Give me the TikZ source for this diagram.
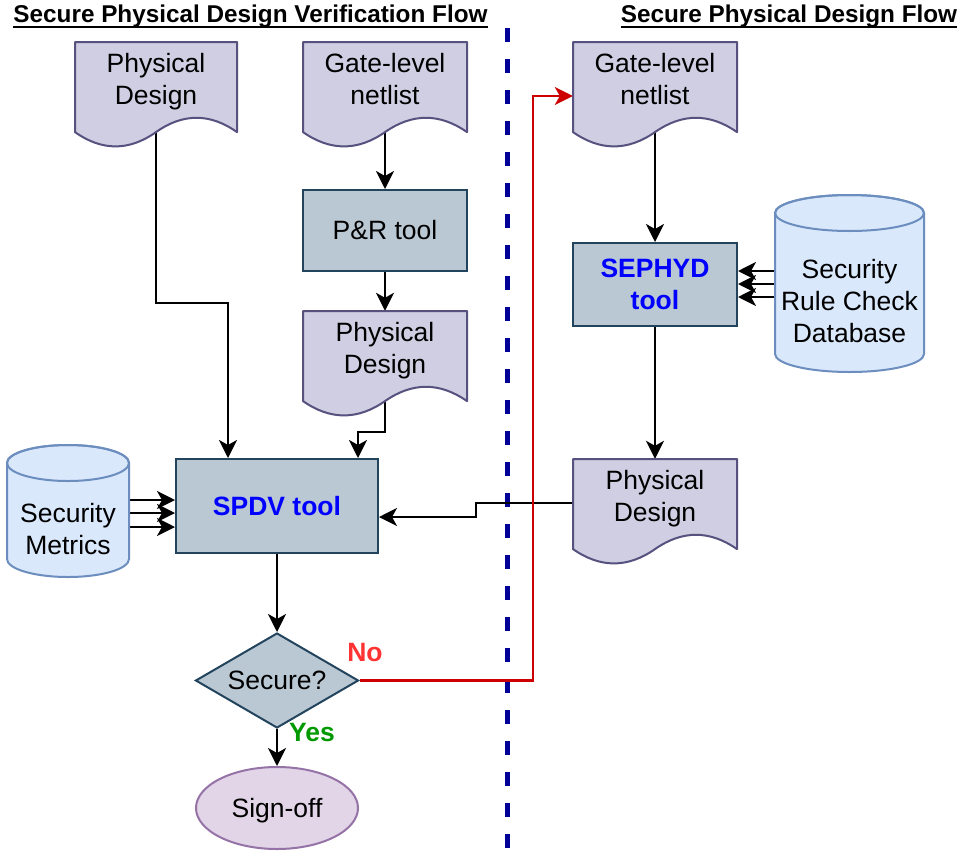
\documentclass[tikz,border=0pt]{standalone}
\usepackage{fontspec}
\setmainfont{Liberation Sans}
\usetikzlibrary{arrows.meta,shapes.geometric,backgrounds,calc}

\definecolor{docfill}{HTML}{D0CEE2}
\definecolor{docline}{HTML}{56517E}
\definecolor{toolfill}{HTML}{BAC8D3}
\definecolor{toolline}{HTML}{23445D}
\definecolor{dbfill}{HTML}{DAE8FC}
\definecolor{dbline}{HTML}{6C8EBF}
\definecolor{endfill}{HTML}{E1D5E7}
\definecolor{endline}{HTML}{9673A6}
\definecolor{loopred}{HTML}{CC0000}
\definecolor{nored}{HTML}{FF3333}
\definecolor{yesgreen}{HTML}{009900}
\definecolor{tooltext}{HTML}{0000FF}
\definecolor{divider}{HTML}{000099}

% every text line gets the same 32pt line box (25pt above, 7pt below the baseline)
\newcommand\lstrut{\rule{0pt}{25pt}\rule[-7pt]{0pt}{7pt}}

\tikzset{
  x=1pt, y=-1pt,
  body/.style={font=\fontsize{26.5}{32}\selectfont, align=center, text=black},
  txt/.style={body, inner sep=0pt},
  docsty/.style={draw=docline, fill=docfill, line width=2pt, line join=round},
  dbsty/.style={draw=dbline, fill=dbfill, line width=2pt},
  toolbox/.style={body, draw=toolline, fill=toolfill, line width=2pt, inner sep=0pt},
  tooltitle/.style={text=tooltext, font=\fontsize{26.5}{32}\selectfont\bfseries},
  flow/.style={line width=2.2pt, -{Stealth[length=18pt,width=18pt,inset=5pt]}},
  heading/.style={font=\fontsize{24.3}{28}\selectfont\bfseries, inner sep=0pt, anchor=base},
  verdict/.style={font=\fontsize{26.5}{30}\selectfont\bfseries, inner sep=0pt},
}

% document shape: name, left x, top y, width, height, text
\newcommand\docshape[6]{%
  \pgfmathsetmacro\dd{0.3*#5}%
  \pgfmathsetmacro\dxr{#2+#4}%
  \pgfmathsetmacro\dyb{#3+#5}%
  \pgfmathsetmacro\dtext{#5-\dd}%
  \draw[docsty] (#2,#3) -- (\dxr,#3) -- (\dxr,\dyb-\dd/2)
    .. controls (#2+5*#4/6,\dyb-1.1*\dd) and (#2+2*#4/3,\dyb-1.1*\dd) .. (#2+#4/2,\dyb-\dd/2)
    .. controls (#2+#4/3,\dyb+0.1*\dd) and (#2+#4/6,\dyb+0.1*\dd) .. (#2,\dyb-\dd/2) -- cycle;
  \node[txt, minimum width=#4, minimum height=\dtext] (#1) at (#2+#4/2, #3+\dtext/2) {#6};
}

% database cylinder: name, left x, top y, width, height, cap radius, text
\newcommand\dbshape[7]{%
  \pgfmathsetmacro\cxl{#2}%
  \pgfmathsetmacro\cxr{#2+#4}%
  \pgfmathsetmacro\cxc{#2+#4/2}%
  \pgfmathsetmacro\cyt{#3+#6}%
  \pgfmathsetmacro\cyb{#3+#5-#6}%
  \pgfmathsetmacro\crx{#4/2}%
  \pgfmathsetmacro\kx{0.5523*#4/2}%
  \pgfmathsetmacro\ky{0.5523*#6}%
  \pgfmathsetmacro\ctext{#5-2*#6}%
  \draw[dbsty] (\cxl,\cyt) -- (\cxl,\cyb)
    .. controls (\cxl,\cyb+\ky) and (\cxc-\kx,\cyb+#6) .. (\cxc,\cyb+#6)
    .. controls (\cxc+\kx,\cyb+#6) and (\cxr,\cyb+\ky) .. (\cxr,\cyb)
    -- (\cxr,\cyt)
    .. controls (\cxr,\cyt-\ky) and (\cxc+\kx,#3) .. (\cxc,#3)
    .. controls (\cxc-\kx,#3) and (\cxl,\cyt-\ky) .. cycle;
  \draw[dbsty, fill=none] (\cxc,\cyt) ellipse [x radius=\crx, y radius=#6];
  \node[txt, minimum width=#4, minimum height=\ctext] (#1) at (\cxc, #3+2*#6+\ctext/2) {#7};
}

\begin{document}
\begin{tikzpicture}
\useasboundingbox (0,0) rectangle (961,854);

% section headings
\node[heading] (hleft) at (250.5,22) {Secure Physical Design Verification Flow};
\node[heading] (hright) at (789,22) {Secure Physical Design Flow};
\draw[line width=1.6pt] ([yshift=-5pt]hleft.base west) -- ([yshift=-5pt]hleft.base east);
\draw[line width=1.6pt] ([yshift=-5pt]hright.base west) -- ([yshift=-5pt]hright.base east);

% verification flow
\docshape{pdin}{75}{42}{162}{106}{Physical\lstrut\\Design\lstrut}
\docshape{glin}{303}{42}{164}{106}{Gate-level\lstrut\\netlist\lstrut}
\node[toolbox, minimum width=164, minimum height=81] (pr) at (385,230.5) {P\&R tool\lstrut};
\docshape{pdpr}{303}{311}{164}{106}{Physical\lstrut\\Design\lstrut}
\dbshape{metrics}{7}{445}{122}{132}{18}{Security\lstrut\\Metrics\lstrut}
\node[toolbox, minimum width=202, minimum height=94, tooltitle] (spdv) at (277,506) {SPDV tool\lstrut};
\node[diamond, draw=toolline, fill=toolfill, line width=2pt, inner sep=0pt, aspect=1.7,
      minimum width=163, minimum height=95, body] (dec) at (277,680.5) {Secure?\lstrut};
\node[ellipse, draw=endline, fill=endfill, line width=2pt, inner sep=0pt,
      minimum width=162, minimum height=82, body] (signoff) at (277,808) {Sign-off\lstrut};
\node[verdict, text=nored] (no) at (365,653) {No};
\node[verdict, text=yesgreen] (yes) at (312,733) {Yes};

% secure design flow
\docshape{glsec}{573}{42}{164}{106}{Gate-level\lstrut\\netlist\lstrut}
\node[toolbox, minimum width=164, minimum height=83, tooltitle] (sephyd) at (655,284.5) {SEPHYD\lstrut\\tool\lstrut};
\dbshape{rules}{775}{195}{149}{177}{18}{Security\lstrut\\Rule Check\lstrut\\Database\lstrut}
\docshape{pdsec}{573}{459}{164}{106}{Physical\lstrut\\Design\lstrut}

% bend points of the routed connectors
\coordinate (bendA) at (228,303);
\coordinate (bendB) at (358,432);
\coordinate (bendC) at (476,503);
\coordinate (bendD) at (476,517);
\coordinate (bendE) at (533,96);

\begin{pgfonlayer}{background}
  \fill[white] (0,0) rectangle (961,854);
  \draw[divider, line width=5pt, dash pattern=on 14pt off 17pt] (507,28) -- (507,854);

  \draw[flow] (pdin.center) |- (bendA) -- (bendA |- spdv.north);
  \draw[flow] (glin.center) -- (pr.north);
  \draw[flow] (pr.south) -- (pdpr.north);
  \draw[flow] (pdpr.center) |- (bendB) -- (bendB |- spdv.north);
  \foreach \yy in {500,513,527}
    \draw[flow] (metrics.east |- 0,\yy) -- (spdv.west |- 0,\yy);
  \draw[flow] (spdv.south) -- (dec.north);
  \draw[flow] (dec.south) -- (signoff.north);

  \draw[flow] (glsec.center) -- (sephyd.north);
  \foreach \yy in {271,284,297}
    \draw[flow] (rules.west |- 0,\yy) -- (sephyd.east |- 0,\yy);
  \draw[flow] (sephyd.south) -- (pdsec.north);
  \draw[flow] (pdsec.west |- bendC) -- (bendC) -- (bendD) -- (bendD -| spdv.east);

  \draw[flow, loopred] (dec.east) -| (bendE) -- (bendE -| glsec.west);
\end{pgfonlayer}
\end{tikzpicture}
\end{document}
